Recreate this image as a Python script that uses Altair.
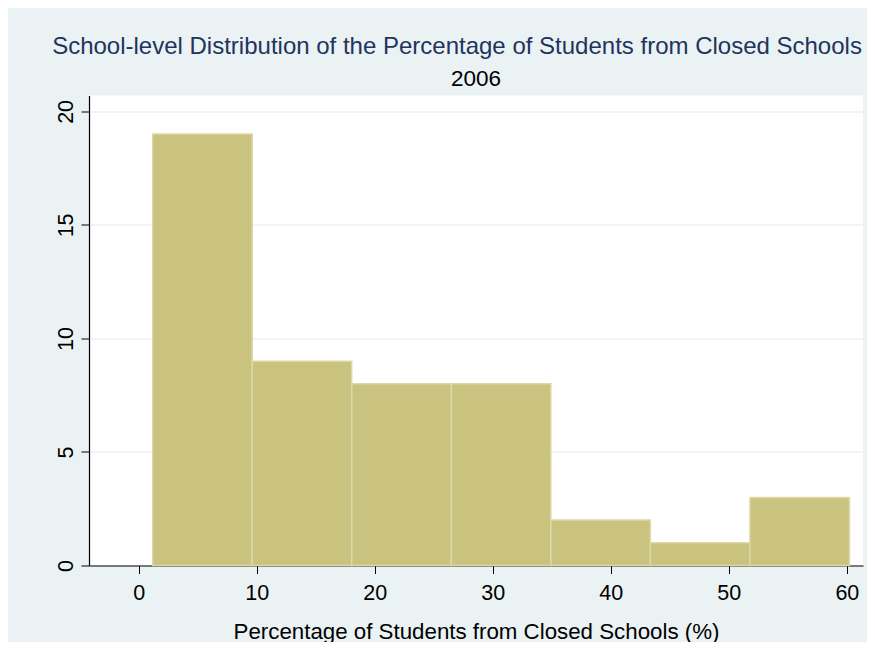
import altair as alt
import pandas as pd

# Histogram data
bin_edges = [1.19, 9.62, 18.05, 26.49, 34.92, 43.35, 51.79, 60.22]
counts = [19, 9, 8, 8, 2, 1, 3]
x_ticks = [0, 10, 20, 30, 40, 50, 60]
y_ticks = [0, 5, 10, 15, 20]

title_text = "School-level Distribution of the Percentage of Students from Closed Schools"
subtitle_text = "2006"
x_title = "Percentage of Students from Closed Schools (%)"

FONT = "Liberation Sans"
BG = "#EAF2F3"
NAVY = "#22345E"

df = pd.DataFrame({"start": bin_edges[:-1], "end": bin_edges[1:], "count": counts})

bars = alt.Chart(df).mark_bar(
    color="#CAC27F", stroke="#DDD8A6", strokeWidth=1.5
).encode(
    x=alt.X(
        "start:Q",
        scale=alt.Scale(domain=[-4.21, 61.37], nice=False, zero=False),
        axis=alt.Axis(
            values=x_ticks, title=x_title, grid=False,
            domainColor="black", domainWidth=1.2,
            tickColor="black", tickSize=8, tickWidth=1,
            labelFontSize=21.5, labelColor="black", labelFont=FONT,
            labelBaseline="alphabetic", labelPadding=25.8,
            titleFontSize=22.3, titleFont=FONT, titleFontWeight="normal",
            titleColor="black", titleBaseline="alphabetic",
            titleX=387, titleY=72.5, titleAlign="center",
        ),
    ),
    x2="end:Q",
    y=alt.Y(
        "count:Q",
        scale=alt.Scale(domain=[0, 20.7], nice=False),
        axis=alt.Axis(
            values=y_ticks, title=None, grid=True,
            gridColor=BG, gridWidth=1.5,
            domainColor="black", domainWidth=1.2,
            tickColor="black", tickSize=8, tickWidth=1,
            labelFontSize=21.5, labelColor="black", labelFont=FONT,
            labelAngle=270, labelAlign="center", labelBaseline="alphabetic",
            labelPadding=8.7,
        ),
    ),
    y2=alt.Y2(datum=0),
)

title_mark = alt.Chart(pd.DataFrame({"t": [title_text]})).mark_text(
    font=FONT, fontSize=24.0, color=NAVY, align="center", baseline="alphabetic"
).encode(text="t:N", x=alt.value(368), y=alt.value(-41.5))

subtitle_mark = alt.Chart(pd.DataFrame({"t": [subtitle_text]})).mark_text(
    font=FONT, fontSize=22.5, color="black", align="center", baseline="alphabetic"
).encode(text="t:N", x=alt.value(387), y=alt.value(-9.8))

chart = alt.layer(bars, title_mark, subtitle_mark).properties(
    width=774,
    height=470,
    autosize=alt.AutoSizeParams(type="none"),
    padding={"left": 81, "top": 87.5, "right": 4, "bottom": 76.5},
    background=BG,
).configure(font=FONT).configure_view(fill="white", strokeWidth=0)

chart.save("out.html", embed_options={"renderer": "svg", "actions": False})
